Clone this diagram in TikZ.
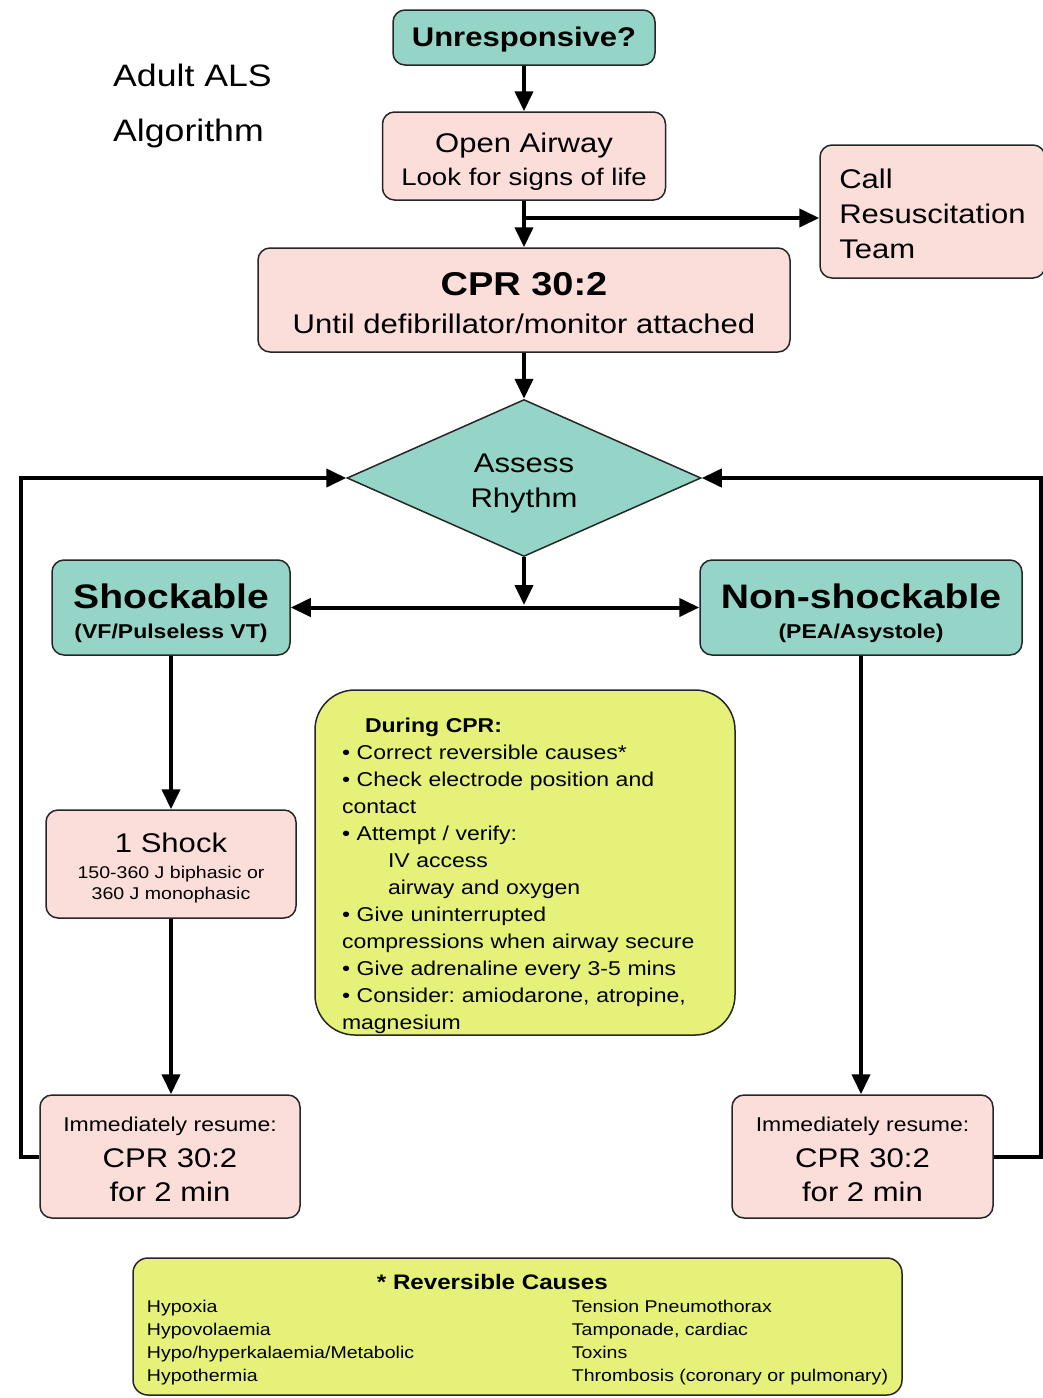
\documentclass[tikz,border=0pt]{standalone}
\usepackage{fontspec}
\setmainfont{Liberation Sans}[FakeStretch=1.15]
\usepackage{tikz}
\usetikzlibrary{positioning}
\usetikzlibrary{shapes.geometric}
\usetikzlibrary{arrows.meta}

\definecolor{alsteal}{RGB}{148,213,199}
\definecolor{alspink}{RGB}{251,222,218}
\definecolor{alsyellow}{RGB}{230,241,122}
\lineskiplimit=-100pt
\frenchspacing
% strut that pushes the first line down inside a box
\newcommand{\lift}[1]{\rule{0pt}{#1}}

\begin{document}
\begin{tikzpicture}[x=1pt,y=-1pt,
	>={Triangle[length=20pt,width=18pt]},
	box/.style={draw=black!85, line width=1.5pt, rounded corners=12pt, align=center, inner sep=0pt},
	pinkbox/.style={box, fill=alspink},
	tealbox/.style={box, fill=alsteal},
	flow/.style={line width=4pt, ->}]

	\useasboundingbox (0,0) rectangle (1043,1398);

	\node [align=left, inner sep=0pt, anchor=west, font=\fontsize{31pt}{55pt}\selectfont] (title) at (113,106) {Adult ALS\\Algorithm};

	\node [tealbox, minimum width=262pt, minimum height=55pt, font=\fontsize{27pt}{32pt}\selectfont\bfseries] (unresp) at (524,37.5) {\lift{24pt}Unresponsive?};
	\node [pinkbox, minimum width=283pt, minimum height=88pt, font=\fontsize{24pt}{33pt}\selectfont] (airway) at (524,156) {\lift{30pt}{\fontsize{27pt}{33pt}\selectfont Open Airway}\\Look for signs of life};
	\node [pinkbox, minimum width=225pt, minimum height=133pt, align=left, font=\fontsize{27pt}{35pt}\selectfont] (call) at (932.5,211.5) {\lift{24pt}Call\\Resuscitation\\Team};
	\node [pinkbox, minimum width=532pt, minimum height=104pt, font=\fontsize{27pt}{38pt}\selectfont] (cpr) at (524,300) {\lift{30pt}{\fontsize{33pt}{38pt}\selectfont\bfseries CPR 30:2}\\Until defibrillator/monitor attached};
	\node [diamond, aspect=2.25, draw=black!85, line width=1.5pt, fill=alsteal, inner sep=0pt, minimum width=354pt, minimum height=157pt, align=center, font=\fontsize{27pt}{35pt}\selectfont] (assess) at (524,478) {\lift{30pt}Assess\\Rhythm};

	\node [tealbox, minimum width=238pt, minimum height=95pt, font=\fontsize{20pt}{30pt}\selectfont\bfseries] (shock) at (171,607.5) {\lift{36pt}{\fontsize{34pt}{30pt}\selectfont Shockable}\\(VF/Pulseless VT)};
	\node [tealbox, minimum width=322pt, minimum height=95pt, font=\fontsize{20pt}{30pt}\selectfont\bfseries] (nonshock) at (861,607.5) {\lift{36pt}{\fontsize{34pt}{30pt}\selectfont Non-shockable}\\(PEA/Asystole)};

	\node [pinkbox, minimum width=250pt, minimum height=108pt, font=\fontsize{17pt}{21pt}\selectfont] (oneshock) at (171,864) {\lift{28pt}{\fontsize{27pt}{21pt}\selectfont 1 Shock}\\[5pt]150-360 J biphasic or\\360 J monophasic};
	\node [pinkbox, minimum width=260pt, minimum height=123pt, font=\fontsize{27pt}{34pt}\selectfont] (resumeL) at (170,1156.5) {\lift{20pt}{\fontsize{20pt}{34pt}\selectfont Immediately resume:}\\[2pt]CPR 30:2\\for 2 min};
	\node [pinkbox, minimum width=261pt, minimum height=123pt, font=\fontsize{27pt}{34pt}\selectfont] (resumeR) at (862.5,1156.5) {\lift{20pt}{\fontsize{20pt}{34pt}\selectfont Immediately resume:}\\[2pt]CPR 30:2\\for 2 min};

	\node [box, fill=alsyellow, rounded corners=40pt, minimum width=420pt, minimum height=345pt, text width=366pt, inner xsep=27pt, align=left, font=\fontsize{20pt}{27pt}\selectfont] (during) at (525,862.5) {\lift{41pt}\hspace*{23pt}\textbf{During CPR:}\\
		• Correct reversible causes*\\
		• Check electrode position and\\
		contact\\
		• Attempt / verify:\\
		\hspace*{46pt}IV access\\
		\hspace*{46pt}airway and oxygen\\
		• Give uninterrupted\\
		compressions when airway secure\\
		• Give adrenaline every 3-5 mins\\
		• Consider: amiodarone, atropine,\\
		magnesium};

	\node [box, fill=alsyellow, rounded corners=15pt, minimum width=769pt, minimum height=137pt, font=\fontsize{17pt}{23pt}\selectfont] (causes) at (517.5,1326.5) {\lineskiplimit=0pt\relax\begin{tabular}{@{}p{410pt}@{\hspace{15pt}}l@{}}
		\multicolumn{2}{@{}l@{}}{\lift{24pt}\hspace*{230pt}{\fontsize{21pt}{23pt}\selectfont\bfseries * Reversible Causes}}\\
		Hypoxia & Tension Pneumothorax\\
		Hypovolaemia & Tamponade, cardiac\\
		Hypo/hyperkalaemia/Metabolic & Toxins\\
		Hypothermia & Thrombosis (coronary or pulmonary)
	\end{tabular}};

	\coordinate (split) at (524,218);
	\coordinate (fork) at (524,605);

	\draw [flow] (unresp.south) -- (airway.north);
	\draw [flow] (airway.south) -- (cpr.north);
	\draw [flow] (split) -- (split -| call.west);
	\draw [flow] (cpr.south) -- (assess.north);
	\draw [flow] (assess.south) -- (fork);
	\draw [flow, <->] (shock.east) -- (nonshock.west);
	\draw [flow] (shock.south) -- (shock.south |- oneshock.north);
	\draw [flow] (oneshock.south) -- (oneshock.south |- resumeL.north);
	\draw [flow] (nonshock.south) -- (nonshock.south |- resumeR.north);
	\draw [flow] (resumeL.west) -- ++(-18,0) |- (assess.west);
	\draw [flow] (resumeR.east) -- ++(47,0) |- (assess.east);
\end{tikzpicture}
\end{document}
